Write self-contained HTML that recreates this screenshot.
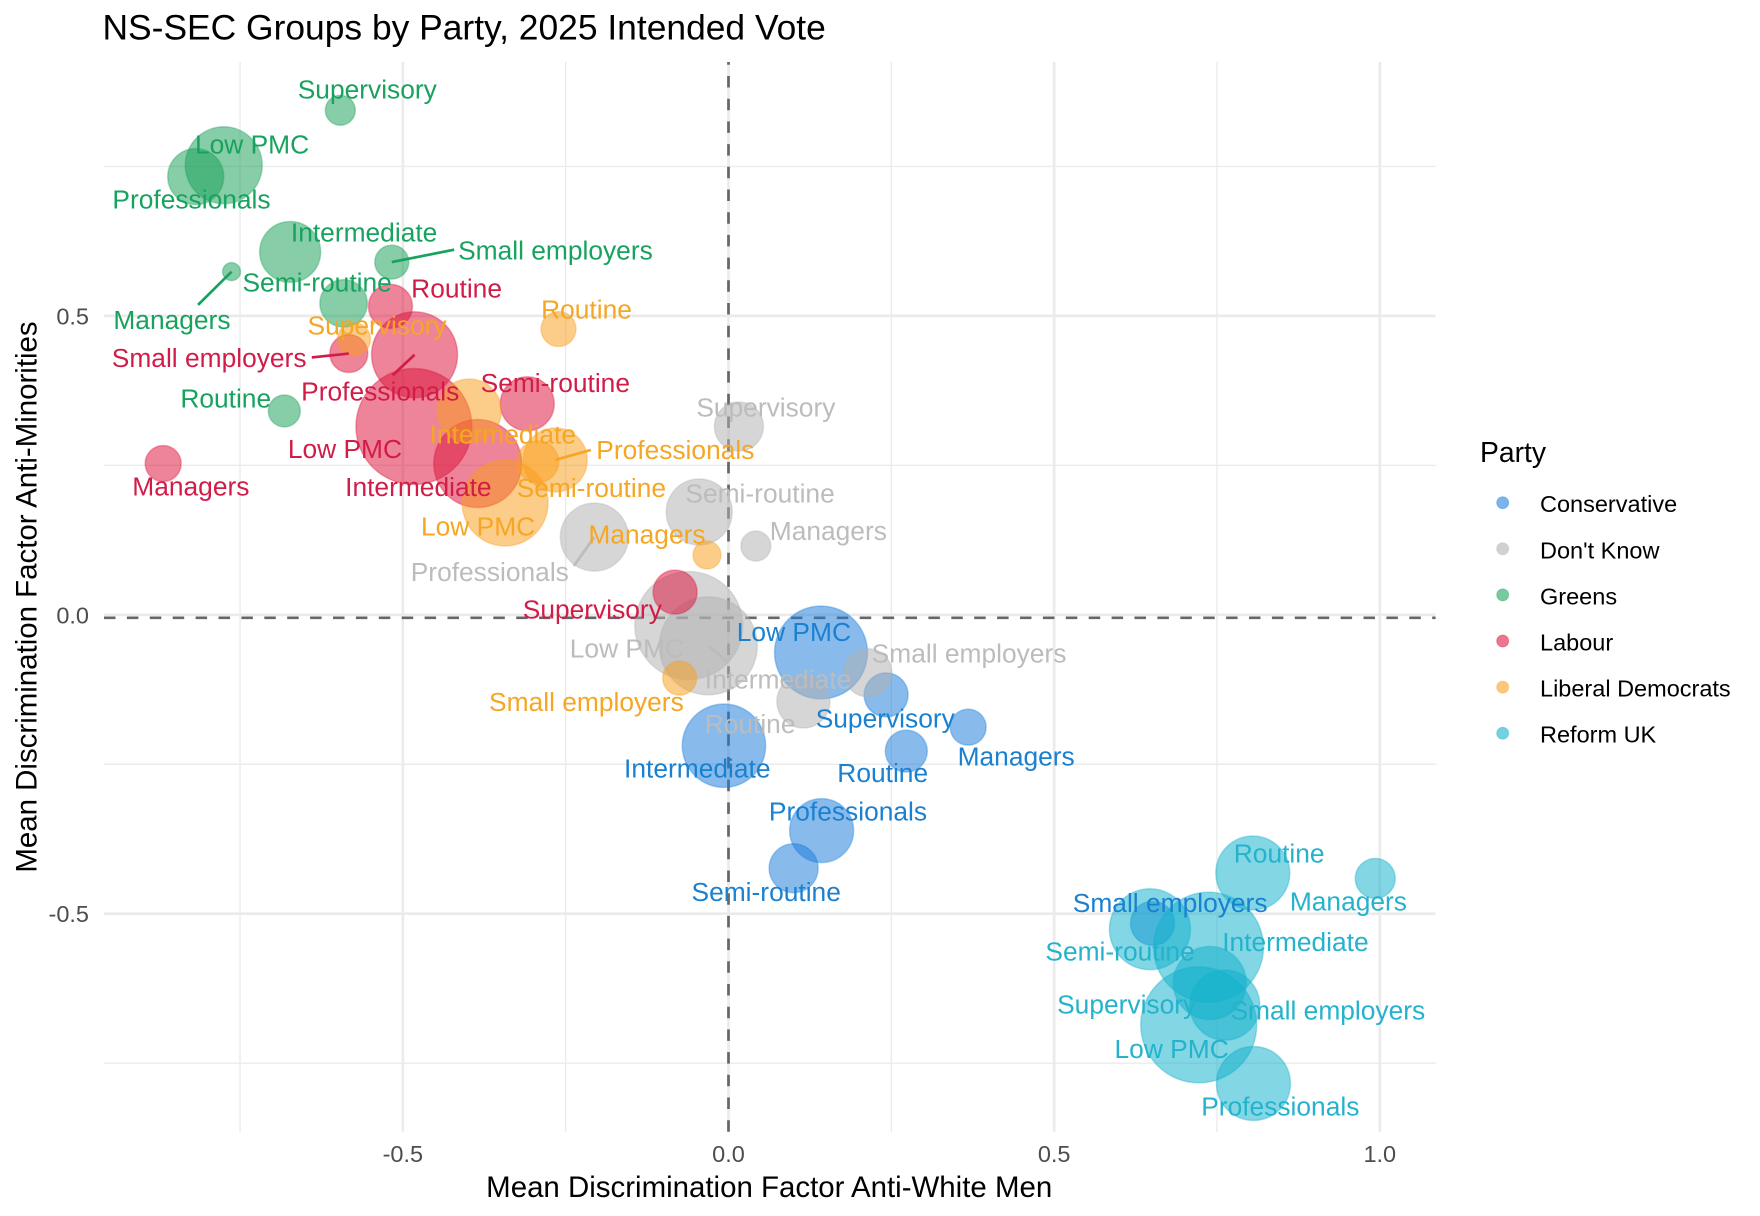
<!DOCTYPE html>
<html>
<head>
<meta charset="utf-8">
<title>NS-SEC Groups by Party, 2025 Intended Vote</title>
<style>
html,body{margin:0;padding:0;background:#fff;}
svg{display:block;font-family:"Liberation Sans",Arial,sans-serif;}
</style>
</head>
<body>
<svg id="chart" width="1760" height="1216" viewBox="0 0 1760 1216" xmlns="http://www.w3.org/2000/svg">
  <rect x="0" y="0" width="1760" height="1216" fill="#ffffff"/>
  <g id="grid"></g>
  <g id="refs"></g>
  <g id="points"></g>
  <g id="connectors"></g>
  <g id="labels"></g>
  <g id="axes"></g>
  <text x="102.5" y="39.5" font-size="35.4" fill="#000">NS-SEC Groups by Party, 2025 Intended Vote</text>
  <text x="769.2" y="1197" font-size="29.45" text-anchor="middle" fill="#000">Mean Discrimination Factor Anti-White Men</text>
  <text transform="translate(36.5,597) rotate(-90)" font-size="29.45" text-anchor="middle" fill="#000">Mean Discrimination Factor Anti-Minorities</text>
  <g id="legend"></g>
</svg>
<script>
var groups = ['Managers', 'Professionals', 'Low PMC', 'Intermediate', 'Small employers', 'Supervisory', 'Semi-routine', 'Routine'];
var parties = ['Conservative', "Don't Know", 'Greens', 'Labour', 'Liberal Democrats', 'Reform UK'];

var conservativeX = [0.368, 0.143, 0.142, -0.007, 0.651, 0.242, 0.100, 0.273];
var conservativeY = [-0.188, -0.361, -0.063, -0.219, -0.516, -0.134, -0.424, -0.228];
var conservativeSize = [3.24, 10.24, 21.6, 17.4, 4.84, 4.84, 6.0, 4.41];

var dontKnowX = [0.042, -0.206, -0.061, -0.031, 0.214, 0.016, -0.045, 0.115];
var dontKnowY = [0.115, 0.130, -0.018, -0.052, -0.097, 0.315, 0.172, -0.145];
var dontKnowSize = [2.25, 11.56, 29.16, 24.01, 5.76, 6.0, 10.89, 7.02];

var greensX = [-0.763, -0.818, -0.775, -0.673, -0.517, -0.596, -0.591, -0.682];
var greensY = [0.574, 0.733, 0.752, 0.607, 0.590, 0.844, 0.521, 0.341];
var greensSize = [0.81, 7.84, 14.82, 9.3, 2.89, 2.25, 5.62, 2.56];

var labourX = [-0.868, -0.482, -0.483, -0.385, -0.583, -0.082, -0.309, -0.519];
var labourY = [0.253, 0.435, 0.315, 0.253, 0.437, 0.038, 0.353, 0.516];
var labourSize = [3.24, 18.49, 33.64, 19.36, 3.61, 4.84, 7.29, 4.84];

var libDemX = [-0.033, -0.266, -0.343, -0.398, -0.075, -0.575, -0.293, -0.261];
var libDemY = [0.100, 0.259, 0.187, 0.341, -0.106, 0.461, 0.256, 0.478];
var libDemSize = [1.96, 10.24, 18.49, 10.24, 2.89, 2.72, 4.41, 3.06];

var reformX = [0.993, 0.806, 0.722, 0.737, 0.762, 0.739, 0.647, 0.805];
var reformY = [-0.441, -0.784, -0.686, -0.556, -0.653, -0.616, -0.526, -0.432];
var reformSize = [4.0, 13.69, 33.64, 30.25, 12.25, 13.32, 16.4, 13.69];

var xMajorTicks = [-0.5, 0, 0.5, 1];
var xMajorLabels = ['-0.5', '0.0', '0.5', '1.0'];
var xMinorTicks = [-0.75, -0.25, 0.25, 0.75];
var yMajorTicks = [-0.5, 0, 0.5];
var yMajorLabels = ['-0.5', '0.0', '0.5'];
var yMinorTicks = [-0.75, -0.25, 0.25, 0.75];
var refX = 0;
var refY = -0.005;

var NS = 'http://www.w3.org/2000/svg';
var panel = {left: 104, right: 1435.6, top: 62, bottom: 1131.7};
function xScale(v) { return 728.5 + 651.3 * v; }
function yScale(v) { return 614.8 - 597.8 * v; }
function rScale(v) { return 10 * Math.sqrt(v); }
function slug(s) { return s.toLowerCase().replace(/[^a-z0-9]+/g, '-'); }
function make(tag, parent, attrs) {
  var el = document.createElementNS(NS, tag);
  for (var k in attrs) { el.setAttribute(k, attrs[k]); }
  parent.appendChild(el);
  return el;
}

var seriesX = [conservativeX, dontKnowX, greensX, labourX, libDemX, reformX];
var seriesY = [conservativeY, dontKnowY, greensY, labourY, libDemY, reformY];
var seriesSize = [conservativeSize, dontKnowSize, greensSize, labourSize, libDemSize, reformSize];

/* styling and label-repel layout, not data */
var fillColors = ['#1a7ddb', '#b0b0b0', '#18a058', '#dc143c', '#f99d1c', '#12b0cc'];
var textColors = ['#1a80d0', '#bcbcbc', '#17a35e', '#d21c48', '#f5a623', '#24b2cc'];
var repelDx = [
  [-10.6, -52.7, -84.2, -99.9, -79.7, -70.4, -102.1, -69],
  [13.9, -183.6, -119, -3.5, 3.8, -42.6, -13.8, -98.7],
  [-118.2, -83.3, -28.8, 0.7, 66.3, -42.6, -101.1, -104],
  [-30.9, -113.4, -126.1, -132.6, -237, -152.3, -46.6, 20.7],
  [-118.6, 41, -84.1, -39.7, -190.6, -46.5, -21, -17.4],
  [-85.4, -52.2, -84.2, 13.7, 5.7, -152.7, -104.5, -19]
];
var repelDy = [
  [37.7, -10.5, -12, 31.3, -12, 32.3, 32.4, 30.6],
  [-6.6, 43.5, 31.6, 42.3, -11, -10.7, -10, 31],
  [57, 31.6, -12.3, -11, -3.1, -12.5, -12.4, -4],
  [31.4, 45.2, 31, 32.1, 12.8, 26, -12.4, -9.3],
  [-12.2, -1.3, 32, 32.2, 32.4, -5.1, 34.6, -11.2],
  [31.8, 31.4, 32.8, 3.1, 13.6, 29.9, 31, -11.2]
];
var connectorSpec = [
  [2, 4, 62.4, -12.4],
  [2, 0, -33.5, 33.2],
  [3, 4, -37, 3.9],
  [3, 1, -21.9, 20.5],
  [4, 1, 35.6, -10],
  [1, 1, -20.4, 28.7],
  [1, 3, 19.9, 16.7]
];

var gridG = document.getElementById('grid');
var refsG = document.getElementById('refs');
var pointsG = document.getElementById('points');
var connG = document.getElementById('connectors');
var labelsG = document.getElementById('labels');
var axesG = document.getElementById('axes');
var legendG = document.getElementById('legend');

xMinorTicks.forEach(function (t) {
  var l = make('line', gridG, {x1: xScale(t), x2: xScale(t), y1: panel.top, y2: panel.bottom, stroke: '#ebebeb', 'stroke-width': 1.4});
  
  
});
yMinorTicks.forEach(function (t) {
  var l = make('line', gridG, {x1: panel.left, x2: panel.right, y1: yScale(t), y2: yScale(t), stroke: '#ebebeb', 'stroke-width': 1.4});
  
  
});
xMajorTicks.forEach(function (t, i) {
  var l = make('line', gridG, {x1: xScale(t), x2: xScale(t), y1: panel.top, y2: panel.bottom, stroke: '#ebebeb', 'stroke-width': 2.7});
  
  
  var txt = make('text', axesG, {x: xScale(t), y: 1162, 'font-size': 23.5, 'text-anchor': 'middle', fill: '#4d4d4d'});
  txt.textContent = xMajorLabels[i];
  
  
});
yMajorTicks.forEach(function (t, i) {
  var l = make('line', gridG, {x1: panel.left, x2: panel.right, y1: yScale(t), y2: yScale(t), stroke: '#ebebeb', 'stroke-width': 2.7});
  
  
  var txt = make('text', axesG, {x: 89, y: yScale(t) + 8.5, 'font-size': 23.5, 'text-anchor': 'end', fill: '#4d4d4d'});
  txt.textContent = yMajorLabels[i];
  
  
});

var hRef = make('line', refsG, {x1: panel.left, x2: panel.right, y1: yScale(refY), y2: yScale(refY), stroke: '#666666', 'stroke-width': 2.7, 'stroke-dasharray': '11.5 11.4'});


var vRef = make('line', refsG, {x1: xScale(refX), x2: xScale(refX), y1: panel.bottom, y2: panel.top, stroke: '#666666', 'stroke-width': 2.7, 'stroke-dasharray': '11.5 11.2'});



parties.forEach(function (party, p) {
  groups.forEach(function (group, g) {
    var cx = xScale(seriesX[p][g]);
    var cy = yScale(seriesY[p][g]);
    var c = make('circle', pointsG, {cx: cx, cy: cy, r: rScale(seriesSize[p][g]), fill: fillColors[p], 'fill-opacity': 0.52, stroke: fillColors[p], 'stroke-opacity': 0.35, 'stroke-width': 1.5});
    
    
  });
});

connectorSpec.forEach(function (s) {
  var cx = xScale(seriesX[s[0]][s[1]]);
  var cy = yScale(seriesY[s[0]][s[1]]);
  var l = make('line', connG, {x1: cx, y1: cy, x2: cx + s[2], y2: cy + s[3], stroke: textColors[s[0]], 'stroke-width': 2.7});
  
  
});

parties.forEach(function (party, p) {
  groups.forEach(function (group, g) {
    var tx = xScale(seriesX[p][g]) + repelDx[p][g];
    var ty = yScale(seriesY[p][g]) + repelDy[p][g] + 0.5;
    var t = make('text', labelsG, {x: tx, y: ty, 'font-size': 26.35, fill: textColors[p]});
    t.textContent = group;
    
    
  });
});

var legendTitle = make('text', legendG, {x: 1480, y: 462, 'font-size': 28.3, fill: '#000'});
legendTitle.textContent = 'Party';


parties.forEach(function (party, p) {
  var ly = 502.7 + 46.1 * p;
  var entry = make('g', legendG, {});
  
  
  var dot = make('circle', entry, {cx: 1502.7, cy: ly, r: 6, fill: fillColors[p], 'fill-opacity': 0.58, stroke: fillColors[p], 'stroke-opacity': 0.35, 'stroke-width': 1});
  
  
  var t = make('text', entry, {x: 1540, y: ly + 9.5, 'font-size': 23.5, fill: '#000'});
  t.textContent = party;
  
  
});
</script>
</body>
</html>
